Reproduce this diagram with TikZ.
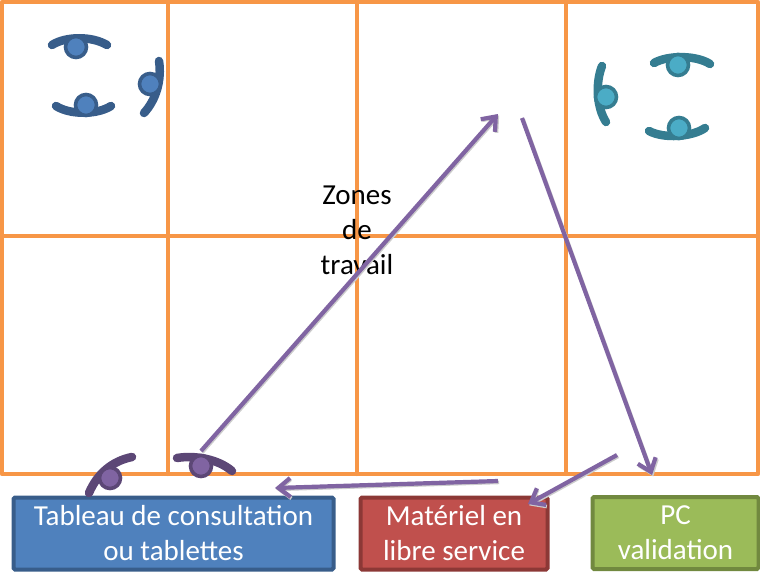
\documentclass[tikz,border=0pt]{standalone}
\usepackage{fontspec}
\setmainfont{Carlito}
\usetikzlibrary{arrows.meta}
\definecolor{gridorange}{HTML}{F79646}
\definecolor{flowpurple}{HTML}{8064A2}
\tikzstyle{gridline}=[draw=gridorange, line width=4.2pt, line join=round, line cap=round]
\tikzstyle{flow}=[draw=flowpurple, line width=4.2pt, -{Straight Barb[length=12pt, width=19pt, line width=4.2pt]},
    preaction={draw=black!20, line width=3.6pt, -{Straight Barb[length=12pt, width=19pt, line width=3.6pt]}, transform canvas={shift={(1.2pt,-1.4pt)}}}]
\tikzstyle{legend}=[draw, line width=4pt, rounded corners=1.5pt, text=white, align=center, inner sep=0pt,
    font=\fontsize{29}{35}\selectfont]
\tikzstyle{head}=[circle, line width=3.6pt, minimum width=21pt, inner sep=0pt]
\tikzstyle{arm}=[line width=8.5pt, line cap=round]
\tikzstyle{headblue}=[head, draw={rgb,255:red,56;green,93;blue,138}, fill={rgb,255:red,79;green,129;blue,189}]
\tikzstyle{armblue}=[arm, draw={rgb,255:red,56;green,93;blue,138}]
\tikzstyle{headteal}=[head, draw={rgb,255:red,53;green,125;blue,145}, fill={rgb,255:red,75;green,172;blue,198}]
\tikzstyle{armteal}=[arm, draw={rgb,255:red,53;green,125;blue,145}]
\tikzstyle{headpurple}=[head, draw={rgb,255:red,92;green,71;blue,118}, fill=flowpurple]
\tikzstyle{armpurple}=[arm, draw={rgb,255:red,92;green,71;blue,118}]
\begin{document}
\begin{tikzpicture}[x=1pt, y=-1pt, thick]
    \useasboundingbox (0, 0) rectangle (760, 586);
    % grid of the room
    \draw[gridline] (2, 2) rectangle (758, 474);
    \draw[gridline] (2, 236) -- (758, 236);
    \draw[gridline] (168, 2) -- (168, 474);
    \draw[gridline] (357, 2) -- (357, 474);
    \draw[gridline] (566, 2) -- (566, 474);
    \node[font=\fontsize{29}{35}\selectfont, align=center] (zones) at (357, 230) {Zones\\de\\travail};
    % boxes
    \node[legend, fill={rgb,255:red,79;green,129;blue,189}, draw={rgb,255:red,56;green,93;blue,138}, minimum width=320pt, minimum height=72pt] (tableau) at (173.5, 533.5) {Tableau de consultation\\ou tablettes};
    \node[legend, fill={rgb,255:red,192;green,80;blue,77}, draw={rgb,255:red,140;green,56;blue,54}, minimum width=187pt, minimum height=72pt] (materiel) at (454, 533.5) {Matériel en\\libre service};
    \node[legend, fill={rgb,255:red,155;green,187;blue,89}, draw={rgb,255:red,113;green,137;blue,63}, minimum width=166pt, minimum height=72pt] (pc) at (675.5, 533) {PC\\validation};
    % persons, blue
    \draw[armblue] (52, 45) .. controls (66, 36) and (92, 36) .. (107, 45);
    \node[headblue] (b1) at (76, 47) {};
    \draw[armblue] (56, 106) .. controls (70, 115) and (97, 115) .. (111, 106);
    \node[headblue] (b2) at (86, 105) {};
    \draw[armblue] (159, 61) .. controls (162, 80) and (156, 100) .. (144, 113);
    \node[headblue] (b3) at (150, 84) {};
    % persons, teal
    \draw[armteal] (654, 63) .. controls (668, 55) and (696, 55) .. (710, 64);
    \node[headteal] (t1) at (678, 65) {};
    \draw[armteal] (649, 131) .. controls (664, 139) and (692, 137) .. (705, 128);
    \node[headteal] (t2) at (679, 128) {};
    \draw[armteal] (602, 66) .. controls (595, 84) and (597, 108) .. (606, 122);
    \node[headteal] (t3) at (606, 97) {};
    % persons, purple
    \draw[armpurple] (132, 457) .. controls (112, 461) and (97, 474) .. (89, 493);
    \node[headpurple] (p1) at (110, 478) {};
    \draw[armpurple] (177, 458) .. controls (195, 455) and (218, 459) .. (232, 471);
    \node[headpurple] (p2) at (201, 466) {};
    % flow
    \coordinate (a1) at (201, 451);
    \coordinate (a2) at (498, 114);
    \coordinate (b1s) at (522, 118);
    \coordinate (b2e) at (652, 475);
    \coordinate (c1) at (617, 455);
    \coordinate (c2) at (528, 504);
    \coordinate (d1) at (498, 481);
    \coordinate (d2) at (275, 488);
    \draw[flow] (a1) -- (a2);
    \draw[flow] (b1s) -- (b2e);
    \draw[flow] (c1) -- (c2);
    \draw[flow] (d1) -- (d2);
\end{tikzpicture}
\end{document}
